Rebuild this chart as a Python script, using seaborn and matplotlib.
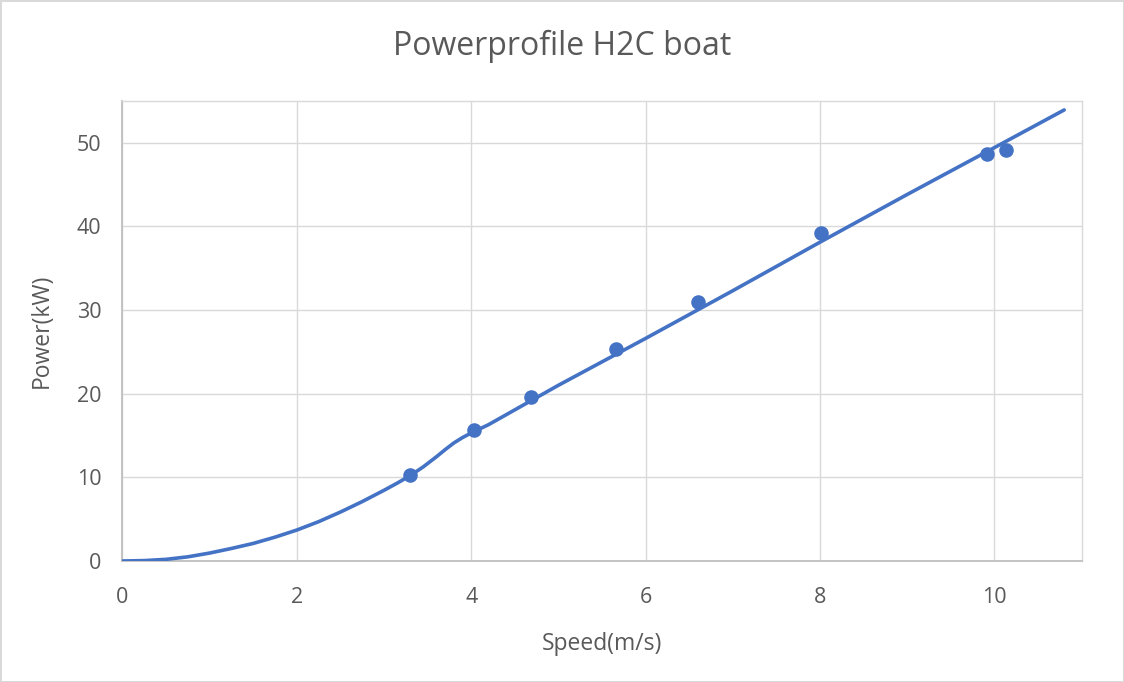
"""Power profile of the H2C boat: measured points and fitted curve."""

import matplotlib
matplotlib.use('Agg')
import matplotlib.pyplot as plt
import seaborn as sns
import pandas as pd


# Measured points
speed_meas = [3.30, 4.03, 4.68, 5.66, 6.60, 8.01, 9.92, 10.13]
power_meas = [10.3, 15.6, 19.6, 25.3, 30.9, 39.2, 48.6, 49.1]

# Fitted power curve
speed_curve = [0.0, 0.25, 0.5, 0.75, 1.0, 1.25, 1.5, 1.75, 2.0, 2.25, 2.5, 2.75,
               3.0, 3.15, 3.3, 3.45, 3.6, 3.7, 3.8, 3.9, 4.0, 4.1, 4.2, 5.0,
               6.0, 7.0, 8.0, 9.0, 10.0, 10.8]
power_curve = [0.0, 0.05, 0.2, 0.5, 0.95, 1.5, 2.1, 2.85, 3.7, 4.7, 5.85, 7.1,
               8.45, 9.3, 10.2, 11.25, 12.45, 13.3, 14.1, 14.75, 15.3, 15.8, 16.3, 21.0,
               26.6, 32.3, 38.1, 43.8, 49.4, 53.9]

x_ticks = [0, 2, 4, 6, 8, 10]
y_ticks = [0, 10, 20, 30, 40, 50]

BLUE = '#4472C4'
TEXT = '#595959'
GRID = '#D9D9D9'

sns.set_theme(style='white')
plt.rcParams['font.family'] = ['Open Sans', 'DejaVu Sans']

meas = pd.DataFrame({'speed': speed_meas, 'power': power_meas})
curve = pd.DataFrame({'speed': speed_curve, 'power': power_curve})

fig = plt.figure(figsize=(11.24, 6.82), dpi=100, edgecolor=GRID, linewidth=2)
ax = fig.add_axes([0.1089, 0.1774, 0.8534, 0.6749])

sns.lineplot(data=curve, x='speed', y='power', color=BLUE, linewidth=2.6,
             sort=False, ax=ax, zorder=3)
sns.scatterplot(data=meas, x='speed', y='power', color=BLUE, s=110,
                edgecolor=BLUE, linewidth=0, ax=ax, zorder=4)

ax.set_xlim(0, 11)
ax.set_ylim(0, 55)
ax.set_xticks(x_ticks)
ax.set_yticks(y_ticks)
ax.grid(True, color=GRID, linewidth=1)
ax.set_axisbelow(True)

for side in ['top', 'right']:
    ax.spines[side].set_color(GRID)
    ax.spines[side].set_linewidth(1)
for side in ['left', 'bottom']:
    ax.spines[side].set_color('#BFBFBF')
    ax.spines[side].set_linewidth(1.3)

ax.tick_params(axis='both', length=0, labelsize=15.5, colors=TEXT)
ax.tick_params(axis='x', pad=19)
ax.tick_params(axis='y', pad=15)

ax.set_xlabel('Speed(m/s)', fontsize=16.5, color=TEXT)
ax.set_ylabel('Power(kW)', fontsize=16.5, color=TEXT)
ax.xaxis.set_label_coords(0.5, -0.154)
ax.yaxis.set_label_coords(-0.072, 0.5)

fig.text(0.5, 1 - 46 / 682, 'Powerprofile H2C boat', ha='center', va='center',
         fontsize=23, color=TEXT)

fig.savefig('out.png', dpi=100, edgecolor=fig.get_edgecolor())
